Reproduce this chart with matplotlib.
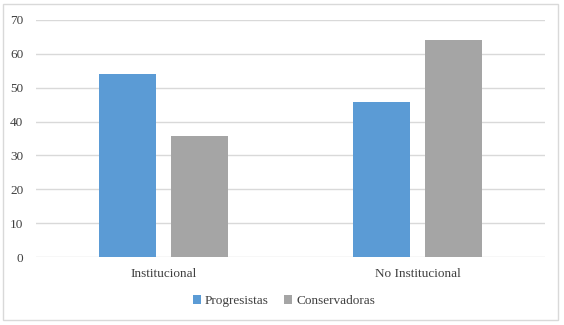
import matplotlib
matplotlib.use("Agg")
import matplotlib.pyplot as plt
import numpy as np
from matplotlib.patches import Rectangle

categories = ["Institucional", "No Institucional"]
progresistas = [54, 45.7]
conservadoras = [35.7, 64.1]
series_names = ["Progresistas", "Conservadoras"]
yticks = [0, 10, 20, 30, 40, 50, 60, 70]

plt.rcParams['font.family'] = ['Liberation Serif', 'DejaVu Serif']

fig = plt.figure(figsize=(5.64, 3.25), dpi=100)
ax = fig.add_axes([36/564, 1-257/325, 509/564, 237/325])

x = np.arange(len(categories))
w = 0.224
gap = 0.059
ax.bar(x - (w+gap)/2, progresistas, w, color="#5B9BD5", label=series_names[0], zorder=3)
ax.bar(x + (w+gap)/2, conservadoras, w, color="#A5A5A5", label=series_names[1], zorder=3)

ax.set_xlim(-0.5, 1.5)
ax.set_ylim(0, 70)
ax.set_yticks(yticks)
ax.set_xticks(x)
ax.set_xticklabels(categories)
ax.grid(axis='y', color="#D9D9D9", linewidth=1, zorder=0)
for s in ax.spines.values():
    s.set_visible(False)
ax.tick_params(length=0, labelsize=9.5, colors="#404040")
ax.tick_params(axis='y', pad=9)
ax.tick_params(axis='x', pad=8)

leg = fig.legend(loc='center', bbox_to_anchor=(284/564, 1-301/325), ncol=2, frameon=False,
                 fontsize=9.5, handlelength=0.6, handleheight=0.6, handletextpad=0.3,
                 columnspacing=1.2)
for t in leg.get_texts():
    t.set_color("#404040")

fig.patches.append(Rectangle((3/564, 5/325), 555/564, 316/325, transform=fig.transFigure,
                             fill=False, edgecolor="#D9D9D9", linewidth=1))

fig.savefig("out.png", dpi=100)
